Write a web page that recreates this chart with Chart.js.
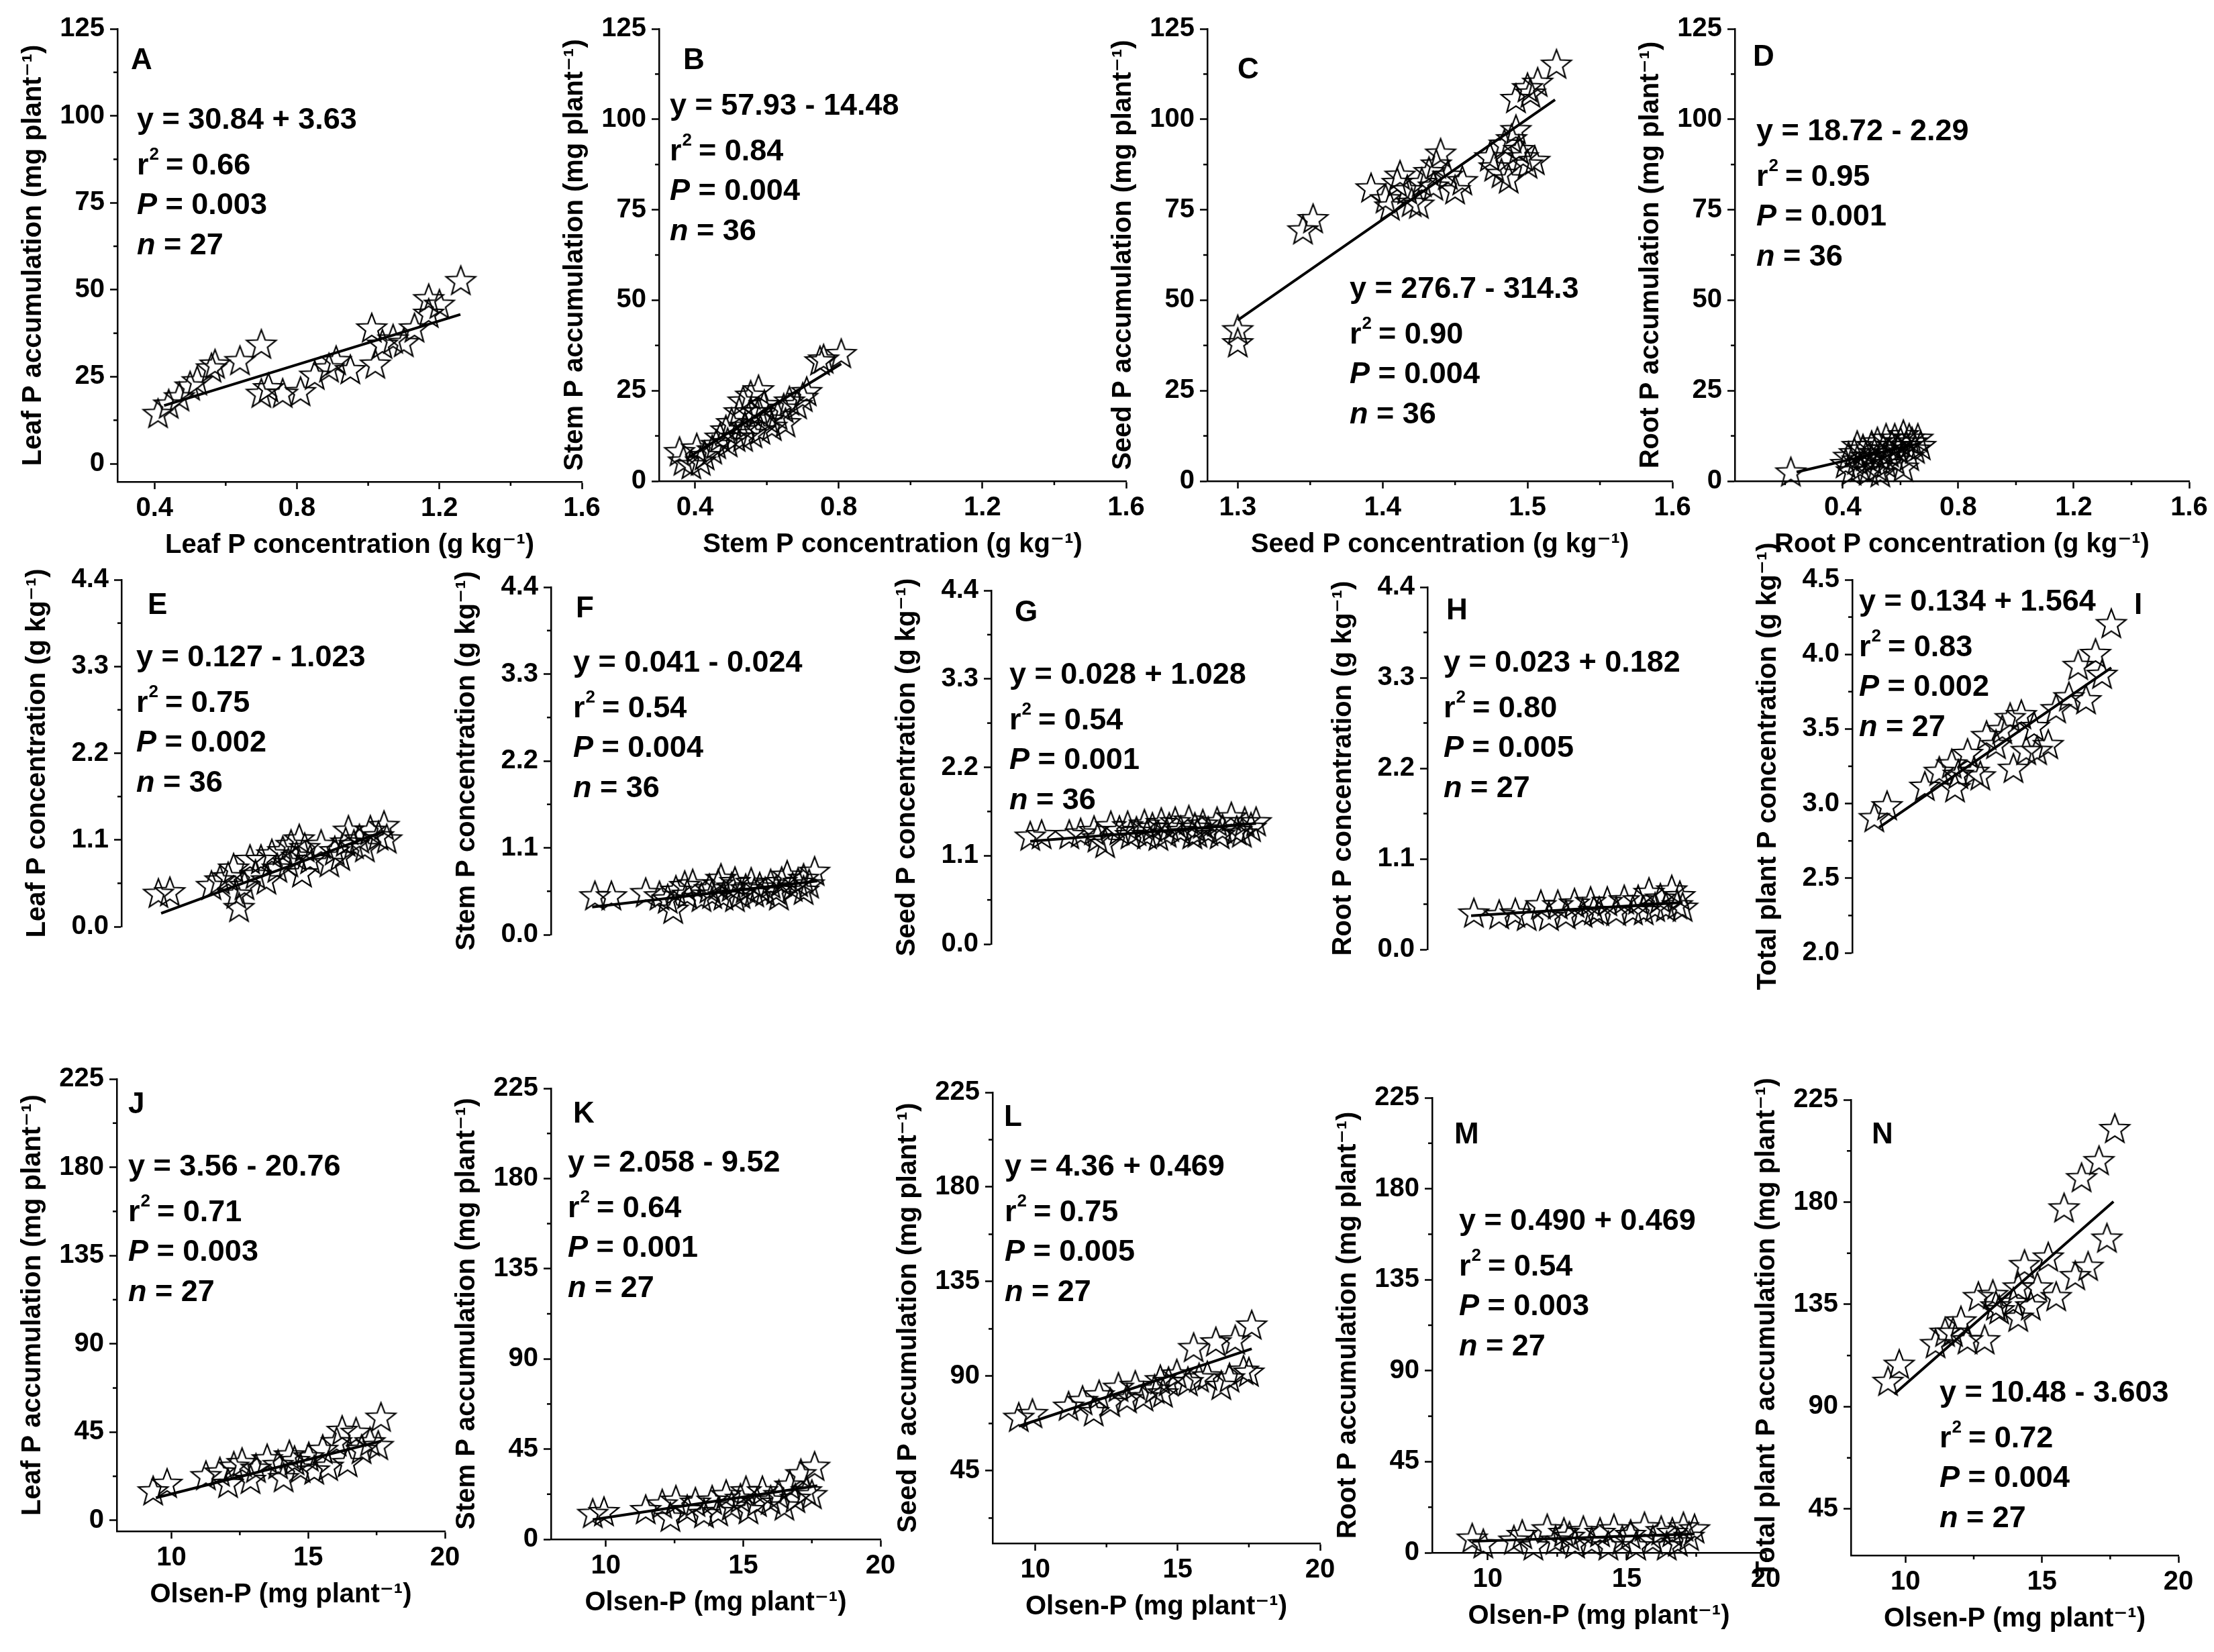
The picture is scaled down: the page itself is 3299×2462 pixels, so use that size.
<!DOCTYPE html>
<html>
<head>
<meta charset="utf-8">
<script src="https://cdn.jsdelivr.net/npm/chart.js@4.4.1/dist/chart.umd.min.js"></script>
<style>
  html, body { margin: 0; padding: 0; background: #fff; }
  #page { position: relative; width: 3299px; height: 2462px; overflow: hidden; background: #fff; }
  #page canvas { position: absolute; }
</style>
</head>
<body>
<div id="page"></div>
<script>
// ---------- data ----------
// row 1: P accumulation vs P concentration
const aX = [0.41, 0.44, 0.47, 0.50, 0.52, 0.56, 0.57, 0.64, 0.70, 0.70, 0.72, 0.76, 0.81, 0.85, 0.89, 0.91, 0.95, 1.01, 1.02, 1.04, 1.07, 1.13, 1.17, 1.17, 1.20, 1.26, 1.10];
const aY = [14.6, 17.3, 19.4, 22.5, 24.0, 27.7, 28.8, 29.8, 34.5, 20.4, 22.0, 20.4, 20.9, 25.6, 27.7, 29.8, 27.2, 39.2, 28.8, 34.5, 36.0, 39.2, 43.4, 47.6, 46.0, 52.8, 35.0];
const bX = [0.357, 0.368, 0.405, 0.416, 0.427, 0.47, 0.486, 0.491, 0.502, 0.513, 0.523, 0.534, 0.539, 0.555, 0.56, 0.577, 0.582, 0.593, 0.604, 0.614, 0.63, 0.647, 0.663, 0.684, 0.70, 0.711, 0.748, 0.758, 0.807, 0.39, 0.448, 0.652, 0.555, 0.459, 0.534, 0.577];
const bY = [8.3, 5.7, 9.3, 5.7, 7.2, 12.3, 14.3, 10.8, 16.3, 12.3, 19.3, 22.3, 15.3, 23.9, 13.3, 25.4, 14.3, 21.3, 17.3, 15.3, 18.3, 20.3, 22.3, 21.3, 23.3, 24.9, 33.4, 33.9, 35.4, 4.7, 8.8, 16.3, 19.3, 10.3, 12.3, 19.3];
const cX = [1.30, 1.30, 1.345, 1.352, 1.392, 1.402, 1.405, 1.412, 1.417, 1.42, 1.427, 1.432, 1.437, 1.44, 1.445, 1.45, 1.455, 1.435, 1.474, 1.477, 1.482, 1.487, 1.489, 1.492, 1.497, 1.50, 1.505, 1.492, 1.50, 1.507, 1.52, 1.484, 1.494, 1.502, 1.41, 1.425];
const cY = [42.0, 38.4, 69.6, 72.7, 81.2, 78.2, 76.2, 84.7, 80.7, 77.2, 82.7, 85.7, 87.8, 90.8, 84.7, 80.7, 83.2, 81.7, 89.8, 87.0, 85.2, 83.7, 94.8, 97.3, 89.8, 87.8, 88.8, 105.9, 108.9, 110.4, 115.4, 93.3, 91.8, 107.4, 82.7, 76.7];
const dX = [0.22, 0.41, 0.42, 0.43, 0.44, 0.45, 0.46, 0.47, 0.48, 0.49, 0.50, 0.50, 0.51, 0.52, 0.52, 0.53, 0.54, 0.55, 0.55, 0.56, 0.57, 0.58, 0.58, 0.59, 0.60, 0.61, 0.61, 0.62, 0.63, 0.63, 0.64, 0.65, 0.66, 0.67, 0.45, 0.53];
const dY = [2.7, 5, 7, 3, 8, 6, 4, 9, 7, 3, 10, 6, 8, 4, 11, 7, 9, 5, 12, 8, 10, 6, 12, 9, 11, 4, 13, 10, 7, 12, 11, 9, 12, 10, 10, 2.5];

// row 2: P concentration vs Olsen-P
const eX = [9.35, 9.77, 11.29, 11.9, 12.1, 12.2, 12.3, 12.5, 12.9, 13.1, 13.3, 13.5, 13.7, 13.9, 14.1, 14.2, 14.4, 14.6, 14.7, 14.9, 15.3, 15.6, 15.8, 16.0, 16.3, 16.5, 16.7, 16.9, 17.1, 17.4, 17.6, 17.7, 12.7, 14.5, 16.2, 11.6];
const eY = [0.43, 0.45, 0.53, 0.64, 0.75, 0.42, 0.25, 0.53, 0.67, 0.86, 0.60, 0.93, 0.75, 0.97, 0.82, 1.05, 0.90, 0.69, 1.01, 0.86, 1.05, 0.82, 0.97, 0.90, 1.23, 1.05, 1.12, 1.01, 1.23, 1.16, 1.29, 1.12, 0.86, 1.12, 1.08, 0.60];
const fX = [9.6, 11.45, 12.25, 12.45, 12.55, 12.96, 13.16, 13.48, 13.77, 14.09, 14.19, 14.28, 14.58, 14.7, 14.9, 15.09, 15.4, 15.6, 15.8, 16.0, 16.2, 16.4, 16.6, 16.8, 17.0, 17.2, 17.4, 17.6, 10.2, 11.95, 13.87, 15.29, 12.87, 14.7, 16.3, 17.2];
const fY = [0.50, 0.54, 0.46, 0.33, 0.57, 0.52, 0.65, 0.48, 0.59, 0.65, 0.72, 0.50, 0.61, 0.68, 0.52, 0.59, 0.54, 0.61, 0.55, 0.65, 0.57, 0.68, 0.76, 0.61, 0.67, 0.72, 0.65, 0.81, 0.50, 0.50, 0.52, 0.67, 0.63, 0.48, 0.50, 0.57];
const gX = [9.87, 10.27, 11.64, 12.11, 12.5, 12.7, 13.0, 13.29, 13.6, 13.88, 14.16, 14.47, 14.66, 14.96, 15.15, 15.44, 15.65, 15.93, 16.12, 16.43, 16.62, 16.93, 17.12, 17.4, 17.62, 17.8, 11.24, 12.23, 13.39, 14.37, 15.56, 16.52, 17.3, 13.97, 15.74, 14.75];
const gY = [1.35, 1.37, 1.39, 1.42, 1.26, 1.48, 1.42, 1.48, 1.41, 1.50, 1.46, 1.52, 1.39, 1.53, 1.42, 1.55, 1.46, 1.50, 1.41, 1.53, 1.44, 1.59, 1.42, 1.53, 1.46, 1.53, 1.37, 1.33, 1.37, 1.35, 1.37, 1.37, 1.39, 1.37, 1.39, 1.46];
const hX = [9.67, 11.16, 11.57, 12.08, 12.37, 12.69, 12.98, 13.29, 13.58, 13.87, 14.18, 14.47, 14.79, 15.08, 15.39, 15.58, 15.78, 15.97, 16.19, 16.38, 16.58, 16.79, 16.99, 17.08, 17.18, 10.58, 13.99];
const hY = [0.45, 0.45, 0.41, 0.55, 0.41, 0.55, 0.43, 0.57, 0.45, 0.59, 0.47, 0.59, 0.47, 0.61, 0.48, 0.61, 0.48, 0.70, 0.52, 0.63, 0.52, 0.73, 0.55, 0.66, 0.52, 0.43, 0.48];
const iX = [8.81, 9.28, 10.67, 11.2, 11.66, 11.78, 11.9, 12.24, 12.48, 12.71, 12.94, 13.29, 13.81, 13.93, 14.22, 14.4, 14.69, 14.8, 15.21, 15.5, 15.97, 16.6, 16.31, 16.95, 17.19, 17.53, 13.52];
const iY = [2.91, 2.99, 3.12, 3.22, 3.27, 3.11, 3.20, 3.34, 3.22, 3.19, 3.46, 3.40, 3.58, 3.24, 3.60, 3.36, 3.52, 3.36, 3.40, 3.64, 3.72, 3.70, 3.93, 4.01, 3.87, 4.21, 3.50];

// row 3: P accumulation vs Olsen-P
const jX = [9.33, 9.84, 11.26, 11.77, 12.07, 12.28, 12.58, 12.89, 13.09, 13.5, 13.9, 14.1, 14.31, 14.72, 15.02, 15.22, 15.53, 15.73, 16.04, 16.24, 16.44, 16.75, 16.95, 17.26, 17.56, 17.66, 14.5];
const jY = [15.4, 19.2, 23.1, 25.0, 19.2, 27.9, 29.8, 21.2, 26.9, 31.7, 28.8, 22.1, 33.7, 26.9, 32.7, 26.0, 36.5, 27.9, 40.4, 46.2, 29.8, 45.2, 36.5, 40.4, 38.5, 52.9, 30.8];
const kX = [9.52, 9.93, 11.45, 12.05, 12.35, 12.55, 12.96, 13.26, 13.57, 13.87, 14.09, 14.38, 14.58, 14.9, 15.19, 15.5, 15.7, 16.0, 16.3, 16.5, 16.7, 16.9, 17.1, 17.3, 17.5, 17.6, 15.1];
const kY = [13.2, 14.1, 15.1, 17.9, 11.3, 19.8, 15.1, 18.8, 13.2, 19.8, 14.1, 22.6, 16.9, 20.7, 15.1, 18.8, 24.5, 19.8, 22.6, 16.9, 27.3, 20.7, 33.0, 24.5, 22.6, 36.7, 24.5];
const lX = [9.42, 9.9, 11.17, 11.66, 12.05, 12.24, 12.63, 12.92, 13.22, 13.51, 13.8, 14.19, 14.48, 14.68, 14.97, 15.36, 15.56, 15.75, 16.04, 16.34, 16.53, 16.82, 17.02, 17.31, 17.5, 17.6, 14.39];
const lY = [70.7, 72.5, 76.0, 78.7, 73.4, 81.4, 77.8, 85.0, 79.6, 85.9, 80.5, 84.1, 82.3, 87.7, 91.3, 87.7, 103.9, 89.5, 90.4, 106.6, 85.9, 89.5, 107.5, 93.1, 92.2, 114.6, 88.6];
const mX = [9.44, 9.84, 11.24, 11.64, 12.14, 12.44, 12.74, 13.14, 13.44, 13.74, 14.04, 14.34, 14.54, 14.84, 15.14, 15.34, 15.64, 15.94, 16.24, 16.44, 16.64, 16.84, 17.04, 17.24, 17.44, 10.94, 12.94];
const mY = [7.5, 4.7, 9.3, 3.7, 12.1, 6.5, 10.3, 4.7, 11.2, 5.6, 10.3, 3.7, 12.1, 6.5, 9.3, 3.7, 13.1, 6.5, 11.2, 3.7, 10.3, 5.6, 13.1, 8.4, 12.1, 6.5, 8.4];
const nX = [9.36, 9.77, 11.1, 11.45, 12.03, 12.27, 12.67, 12.9, 13.2, 13.43, 13.95, 14.13, 14.36, 14.59, 14.83, 15.23, 15.52, 15.81, 16.22, 16.45, 16.69, 17.09, 17.38, 17.67, 14.13, 13.31, 11.74];
const nY = [101.4, 108.9, 118.0, 123.0, 128.0, 119.7, 138.7, 119.7, 139.6, 132.9, 136.2, 129.6, 152.8, 134.6, 142.9, 156.1, 138.7, 177.7, 147.9, 191.0, 152.0, 198.5, 164.4, 212.6, 142.9, 134.6, 123.0];

// regression line end points: [x0, x1], [y0, y1]
const fitX = {
  A: [0.427, 1.259], B: [0.384, 0.807], C: [1.30, 1.519], D: [0.24, 0.67],
  E: [9.45, 17.6], F: [9.5, 17.7], G: [9.87, 17.8], H: [9.57, 17.18], I: [8.99, 17.53],
  J: [9.43, 17.66], K: [9.52, 17.7], L: [9.42, 17.6], M: [9.44, 17.44], N: [9.59, 17.62]
};
const fitY = {
  A: [16.7, 42.9], B: [6.7, 32.4], C: [44.5, 105.4], D: [2.5, 10.5],
  E: [0.17, 1.21], F: [0.35, 0.68], G: [1.28, 1.50], H: [0.41, 0.57], I: [2.84, 3.91],
  J: [11.5, 40.4], K: [9.8, 26.7], L: [66.2, 103], M: [5.6, 9.3], N: [95.6, 180.2]
};

// statistics printed in each panel
const panelIds = ['A', 'B', 'C', 'D', 'E', 'F', 'G', 'H', 'I', 'J', 'K', 'L', 'M', 'N'];
const equations = ['y = 30.84 + 3.63', 'y = 57.93 - 14.48', 'y = 276.7 - 314.3', 'y = 18.72 - 2.29',
  'y = 0.127 - 1.023', 'y = 0.041 - 0.024', 'y = 0.028 + 1.028', 'y = 0.023 + 0.182', 'y = 0.134 + 1.564',
  'y = 3.56 - 20.76', 'y = 2.058 - 9.52', 'y = 4.36 + 0.469', 'y = 0.490 + 0.469', 'y = 10.48 - 3.603'];
const rSquared = ['0.66', '0.84', '0.90', '0.95', '0.75', '0.54', '0.54', '0.80', '0.83', '0.71', '0.64', '0.75', '0.54', '0.72'];
const pValues = ['0.003', '0.004', '0.004', '0.001', '0.002', '0.004', '0.001', '0.005', '0.002', '0.003', '0.001', '0.005', '0.003', '0.004'];
const nValues = ['27', '36', '36', '36', '36', '36', '36', '27', '27', '27', '27', '27', '27', '27'];

// tick values (major ones get a label)
const acc125Ticks = [0, 25, 50, 75, 100, 125];
const acc125Minor = [12.5, 37.5, 62.5, 87.5, 112.5];
const concTicks = [0.4, 0.8, 1.2, 1.6];
const concMinor = [0.2, 0.6, 1.0, 1.4];
const seedTicks = [1.3, 1.4, 1.5, 1.6];
const seedMinor = [1.35, 1.45, 1.55];
const conc44Ticks = [0, 1.1, 2.2, 3.3, 4.4];
const conc44Minor = [0.55, 1.65, 2.75, 3.85];
const totalTicks = [2.0, 2.5, 3.0, 3.5, 4.0, 4.5];
const totalMinor = [2.25, 2.75, 3.25, 3.75, 4.25];
const olsenTicks = [10, 15, 20];
const olsenMinor = [7.5, 12.5, 17.5];
const acc225Ticks = [0, 45, 90, 135, 180, 225];
const acc225Minor = [22.5, 67.5, 112.5, 157.5, 202.5];

// ---------- layout ----------
const FONT = "'Liberation Sans', Arial, 'DejaVu Sans', sans-serif";
const Y_AXIS_W = 149, X_AXIS_H = 119, PAD_T = 60, PAD_R = 50, PAD_B = 30;
const MAJOR_LEN = 11, MINOR_LEN = 6;

const yAcc = { major: acc125Ticks, minor: acc125Minor, dec: 0 };
const xConc = { major: concTicks, minor: concMinor, dec: 1 };
const xSeed = { major: seedTicks, minor: seedMinor, dec: 1 };
const yConc = { major: conc44Ticks, minor: conc44Minor, dec: 1 };
const yTotal = { major: totalTicks, minor: totalMinor, dec: 1 };
const xOlsen = { major: olsenTicks, minor: olsenMinor, dec: 0 };
const yAcc2 = { major: acc225Ticks, minor: acc225Minor, dec: 0 };

const conc = 'concentration (g kg\u207B\u00B9)';
const accu = 'accumulation (mg plant\u207B\u00B9)';
const olsen = 'Olsen-P (mg plant\u207B\u00B9)';

// box = plot area [left, top, right, bottom] in page pixels
const panels = [
  { x: aX, y: aY, box: [175, 43, 867, 718], xr: [0.296, 1.6], yr: [-5.2, 125], xa: xConc, ya: yAcc, xt: 'Leaf P ' + conc, yt: 'Leaf P ' + accu, letter: [195, 103], text: [204, 192] },
  { x: bX, y: bY, box: [982, 43, 1678, 717], xr: [0.3, 1.6], yr: [0, 125], xa: xConc, ya: yAcc, xt: 'Stem P ' + conc, yt: 'Stem P ' + accu, letter: [1018, 103], text: [998, 171] },
  { x: cX, y: cY, box: [1799, 43, 2492, 717], xr: [1.279, 1.6], yr: [0, 125], xa: xSeed, ya: yAcc, xt: 'Seed P ' + conc, yt: 'Seed P ' + accu, letter: [1844, 117], text: [2011, 444] },
  { x: dX, y: dY, box: [2585, 43, 3262, 717], xr: [0.026, 1.6], yr: [0, 125], xa: xConc, ya: yAcc, xt: 'Root P ' + conc, yt: 'Root P ' + accu, letter: [2612, 98], text: [2617, 209] },
  { x: eX, y: eY, box: [181, 864, 670, 1500], xr: [8, 20], yr: [0, 4.4], xa: xOlsen, ya: yConc, xt: null, yt: 'Leaf P ' + conc, letter: [220, 915], text: [203, 993] },
  { x: fX, y: fY, box: [821, 875, 1312, 1512], xr: [8, 20], yr: [0, 4.4], xa: xOlsen, ya: yConc, xt: null, yt: 'Stem P ' + conc, letter: [858, 920], text: [854, 1001] },
  { x: gX, y: gY, box: [1477, 880, 1965, 1526], xr: [8.5, 20], yr: [0, 4.4], xa: xOlsen, ya: yConc, xt: null, yt: 'Seed P ' + conc, letter: [1512, 926], text: [1504, 1019] },
  { x: hX, y: hY, box: [2127, 875, 2624, 1534], xr: [8, 20], yr: [0, 4.4], xa: xOlsen, ya: yConc, xt: null, yt: 'Root P ' + conc, letter: [2155, 923], text: [2151, 1001] },
  { x: iX, y: iY, box: [2760, 864, 3246, 1539], xr: [8, 20], yr: [2, 4.5], xa: xOlsen, ya: yTotal, xt: null, yt: 'Total plant P ' + conc, letter: [3180, 915], text: [2770, 910] },
  { x: jX, y: jY, box: [174, 1608, 663, 2282], xr: [8, 20], yr: [-5.5, 225], xa: xOlsen, ya: yAcc2, xt: olsen, yt: 'Leaf P ' + accu, letter: [191, 1659], text: [191, 1752] },
  { x: kX, y: kY, box: [821, 1622, 1312, 2294], xr: [8, 20], yr: [0, 225], xa: xOlsen, ya: yAcc2, xt: olsen, yt: 'Stem P ' + accu, letter: [854, 1673], text: [846, 1746] },
  { x: lX, y: lY, box: [1479, 1628, 1967, 2300], xr: [8.5, 20], yr: [10.5, 225], xa: xOlsen, ya: yAcc2, xt: olsen, yt: 'Seed P ' + accu, letter: [1496, 1678], text: [1497, 1752] },
  { x: mX, y: mY, box: [2134, 1636, 2631, 2314], xr: [8, 20], yr: [0, 225], xa: xOlsen, ya: yAcc2, xt: olsen, yt: 'Root P ' + accu, letter: [2167, 1704], text: [2174, 1833] },
  { x: nX, y: nY, box: [2758, 1639, 3246, 2318], xr: [8, 20], yr: [24.6, 225], xa: xOlsen, ya: yAcc2, xt: olsen, yt: 'Total plant P ' + accu, letter: [2789, 1704], text: [2890, 2089] }
];

// open five-pointed star used as the marker
function makeStar(r) {
  const s = Math.ceil(r * 2 + 6);
  const c = document.createElement('canvas');
  c.width = s; c.height = s;
  const g = c.getContext('2d');
  g.translate(s / 2, s / 2 + r * 0.1);
  g.beginPath();
  for (let i = 0; i < 10; i++) {
    const a = -Math.PI / 2 + i * Math.PI / 5;
    const rr = i % 2 ? r * 0.42 : r;
    g.lineTo(Math.cos(a) * rr, Math.sin(a) * rr);
  }
  g.closePath();
  g.lineWidth = 2.2;
  g.strokeStyle = '#000';
  g.stroke();
  return c;
}
const star = makeStar(23);

const font = (size, style) => (style ? style + ' ' : '') + 'bold ' + size + 'px ' + FONT;
const isMajor = (ax, v) => ax.major.some(m => Math.abs(m - v) < 1e-9);

// panel letter and the regression statistics
const statsPlugin = {
  id: 'stats',
  afterDraw(chart, args, o) {
    const c = chart.ctx;
    c.save();
    c.fillStyle = '#000';
    c.textAlign = 'left';
    c.textBaseline = 'alphabetic';
    c.font = font(44);
    c.fillText(o.letter, o.lx, o.ly);
    const x = o.tx, y = o.ty;
    c.font = font(45);
    c.fillText(o.eq, x, y);
    c.fillText('r', x, y + 68);
    const rw = c.measureText('r').width;
    c.font = font(26);
    c.fillText('2', x + rw + 1, y + 68 - 22);
    c.font = font(45);
    c.fillText(' = ' + o.r2, x + rw + 13, y + 68);
    c.font = font(45, 'italic');
    c.fillText('P', x, y + 127);
    let w = c.measureText('P').width;
    c.font = font(45);
    c.fillText(' = ' + o.p, x + w, y + 127);
    c.font = font(45, 'italic');
    c.fillText('n', x, y + 187);
    w = c.measureText('n').width;
    c.font = font(45);
    c.fillText(' = ' + o.n, x + w, y + 187);
    c.restore();
  }
};

// shorter minor tick marks, placed through each scale
const minorTickPlugin = {
  id: 'minorTicks',
  afterDraw(chart) {
    const c = chart.ctx;
    const area = chart.chartArea;
    c.save();
    c.strokeStyle = '#000';
    c.lineWidth = 2.5;
    Object.values(chart.scales).forEach(s => {
      if (!s.options.display) return;
      const ax = s.options.axisDef;
      s.ticks.forEach(t => {
        if (isMajor(ax, t.value)) return;
        const p = s.getPixelForValue(t.value);
        c.beginPath();
        if (s.isHorizontal()) { c.moveTo(p, area.bottom); c.lineTo(p, area.bottom + MINOR_LEN); }
        else { c.moveTo(area.left, p); c.lineTo(area.left - MINOR_LEN, p); }
        c.stroke();
      });
    });
    c.restore();
  }
};

function scale(isX, range, ax, title, show) {
  const [min, max] = range;
  const vals = ax.major.concat(ax.minor)
    .filter(v => v >= min - 1e-9 && v <= max + 1e-9)
    .sort((a, b) => a - b);
  return {
    type: 'linear', min, max,
    display: show,
    axisDef: ax,
    position: isX ? 'bottom' : 'left',
    afterBuildTicks: s => { s.ticks = vals.map(v => ({ value: v })); },
    afterFit: s => { if (isX) s.height = X_AXIS_H; else s.width = Y_AXIS_W; },
    grid: {
      drawOnChartArea: false, drawTicks: true, tickLength: MAJOR_LEN, tickWidth: 2.5,
      tickColor: ctx => (ctx.tick && !isMajor(ax, ctx.tick.value)) ? 'rgba(0,0,0,0)' : '#000'
    },
    border: { display: true, color: '#000', width: 2.5 },
    ticks: {
      autoSkip: false, maxRotation: 0, padding: isX ? 5 : 8, color: '#000',
      font: { family: FONT, size: 40, weight: 'bold' },
      callback: v => isMajor(ax, v) ? v.toFixed(ax.dec) : ''
    },
    title: { display: !!title, text: title || '', color: '#000', padding: 0, font: { family: FONT, size: 40, weight: 'bold' } }
  };
}

const page = document.getElementById('page');

panels.forEach((p, k) => {
  const id = panelIds[k];
  const [l, t, r, b] = p.box;
  const hasX = !!p.xt;
  const cl = l - Y_AXIS_W, ct = t - PAD_T;
  const w = r - l + Y_AXIS_W + PAD_R;
  const h = b - t + PAD_T + (hasX ? X_AXIS_H : PAD_B);
  const cv = document.createElement('canvas');
  cv.width = w; cv.height = h;
  cv.style.left = cl + 'px'; cv.style.top = ct + 'px';
  cv.style.width = w + 'px'; cv.style.height = h + 'px';
  page.appendChild(cv);

  new Chart(cv, {
    type: 'scatter',
    data: {
      datasets: [
        {
          data: p.x.map((v, i) => ({ x: v, y: p.y[i] })),
          pointStyle: star, pointRadius: 10, showLine: false, clip: false
        },
        {
          data: fitX[id].map((v, i) => ({ x: v, y: fitY[id][i] })),
          showLine: true, borderColor: '#000', borderWidth: 4, pointRadius: 0, tension: 0, fill: false, clip: false
        }
      ]
    },
    options: {
      responsive: false,
      animation: false,
      events: [],
      layout: { padding: { top: PAD_T, right: PAD_R, bottom: hasX ? 0 : PAD_B, left: 0 } },
      plugins: {
        legend: { display: false },
        tooltip: { enabled: false },
        stats: {
          letter: id, lx: p.letter[0] - cl, ly: p.letter[1] - ct,
          tx: p.text[0] - cl, ty: p.text[1] - ct,
          eq: equations[k], r2: rSquared[k], p: pValues[k], n: nValues[k]
        }
      },
      scales: {
        x: scale(true, p.xr, p.xa, p.xt, hasX),
        y: scale(false, p.yr, p.ya, p.yt, true)
      }
    },
    plugins: [statsPlugin, minorTickPlugin]
  });
});
</script>
</body>
</html>
